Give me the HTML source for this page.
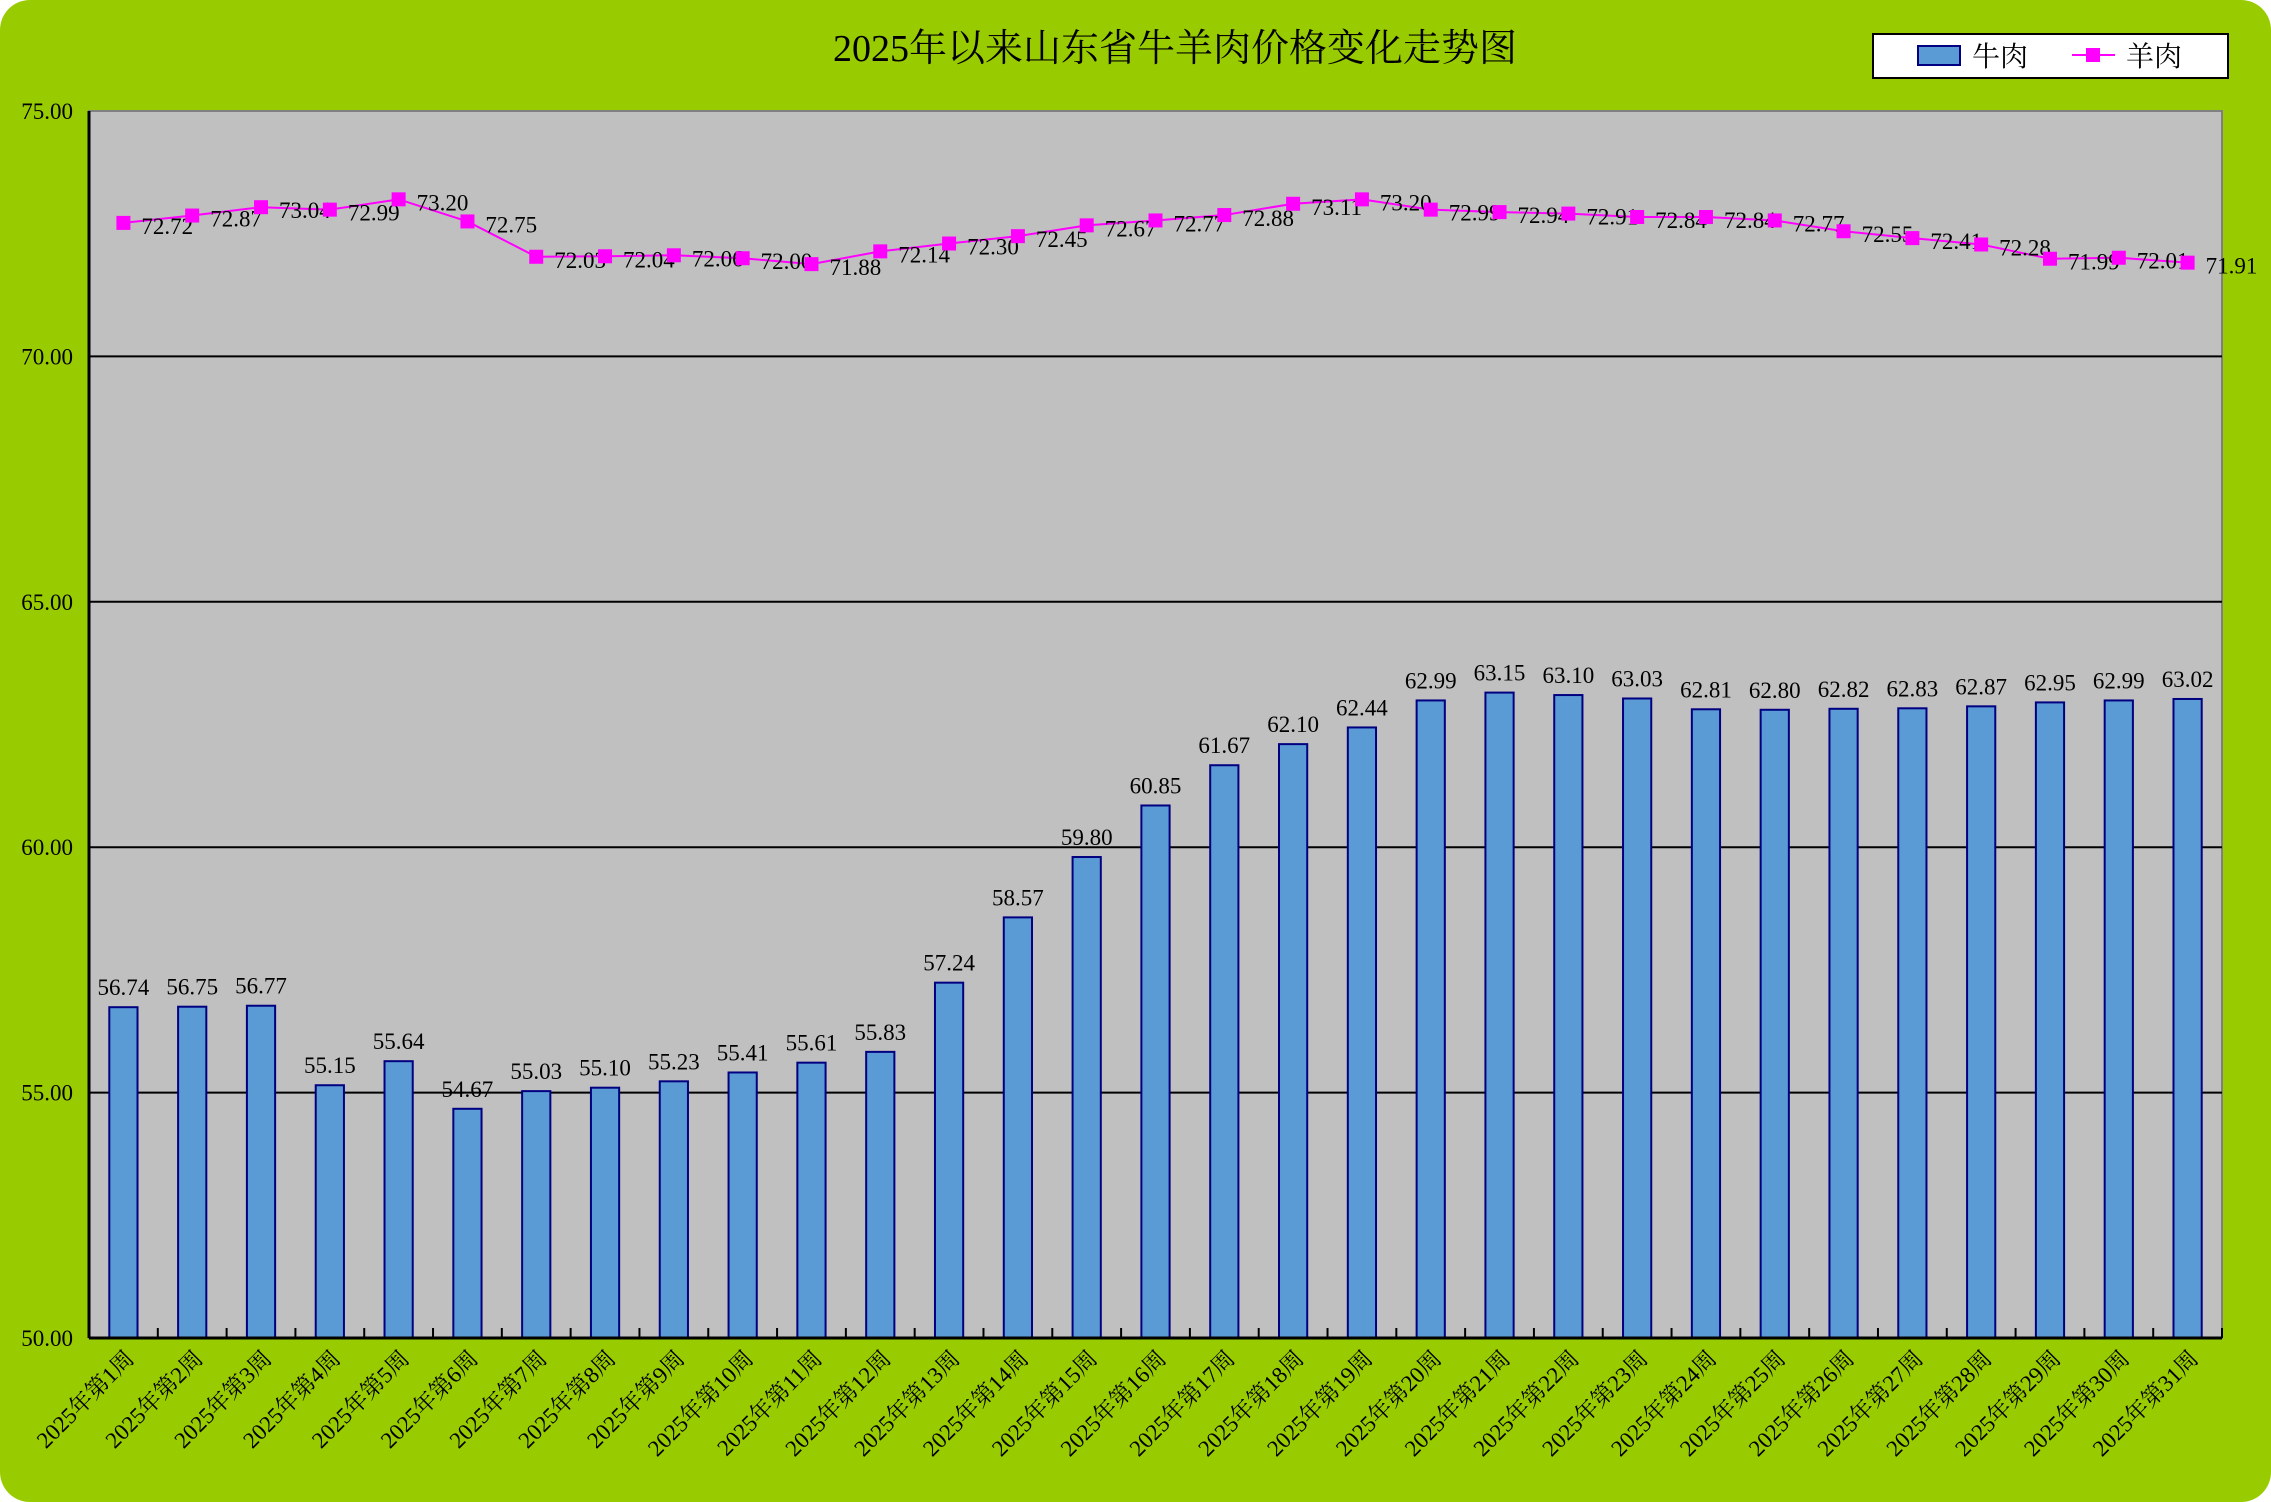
<!DOCTYPE html>
<html><head><meta charset="utf-8">
<style>
html,body{margin:0;padding:0;background:#fff;}
svg{display:block;}
text{font-family:"Liberation Serif","Noto Serif CJK SC",serif;fill:#000;}
</style></head>
<body>
<svg id="chart" width="2271" height="1502" viewBox="0 0 2271 1502">
<rect x="0" y="0" width="2271" height="1502" rx="30" fill="#99cc00"/>
<rect x="89" y="111" width="2133" height="1227" fill="#c0c0c0" stroke="#808080" stroke-width="2"/>
<text x="1175" y="61" font-size="38" text-anchor="middle">2025年以来山东省牛羊肉价格变化走势图</text>
<g id="grid"></g>
<g id="bars"></g>
<g id="line"></g>
<g id="axes"></g>
<g>
<rect x="1873" y="34" width="355" height="44" fill="#fff" stroke="#000" stroke-width="2"/>
<rect x="1918" y="46" width="42" height="19" fill="#5b9bd5" stroke="#000080" stroke-width="2"/>
<text x="1972" y="66" font-size="28">牛肉</text>
<line x1="2072" y1="55" x2="2115" y2="55" stroke="#ff00ff" stroke-width="2"/>
<rect x="2086" y="48" width="14" height="14" fill="#ff00ff"/>
<text x="2126" y="66" font-size="28">羊肉</text>
</g>
</svg>
<script>
const categories = Array.from({length:31},(_, i)=>"2025年第"+(i+1)+"周");
const beef = [56.74,56.75,56.77,55.15,55.64,54.67,55.03,55.10,55.23,55.41,55.61,55.83,57.24,58.57,59.80,60.85,61.67,62.10,62.44,62.99,63.15,63.10,63.03,62.81,62.80,62.82,62.83,62.87,62.95,62.99,63.02];
const mutton = [72.72,72.87,73.04,72.99,73.20,72.75,72.03,72.04,72.06,72.00,71.88,72.14,72.30,72.45,72.67,72.77,72.88,73.11,73.20,72.99,72.94,72.91,72.84,72.84,72.77,72.55,72.41,72.28,71.99,72.01,71.91];
const yTicks = [50,55,60,65,70,75];

const NS="http://www.w3.org/2000/svg";
const L=89,T=111,R=2222,B=1338,yMin=50,yMax=75;
const step=(R-L)/categories.length;
function xPos(i){return L+step*(i+0.5);}
function yPos(v){return B-(v-yMin)/(yMax-yMin)*(B-T);}
function mk(tag,attrs,parent){const e=document.createElementNS(NS,tag);for(const k in attrs)e.setAttribute(k,attrs[k]);parent.appendChild(e);return e;}
const grid=document.getElementById('grid'),bars=document.getElementById('bars'),line=document.getElementById('line'),axes=document.getElementById('axes');

yTicks.forEach(v=>{
  const y=yPos(v);
  if(v!==yMin&&v!==yMax){const g=mk('line',{x1:L,x2:R,y1:y,y2:y,stroke:'#000','stroke-width':2},grid);
  
  }
  const t=mk('text',{x:73,y:y+8,'font-size':23,'text-anchor':'end'},axes);t.textContent=v.toFixed(2);
  
  
});
const bw=step*0.41;
beef.forEach((v,i)=>{
  const x=xPos(i),y=yPos(v);
  const r=mk('rect',{x:x-bw/2,y:y,width:bw,height:B-y,fill:'#5b9bd5',stroke:'#000080','stroke-width':2},bars);
  
  
  const t=mk('text',{x:x,y:y-12,'font-size':23,'text-anchor':'middle'},bars);t.textContent=v.toFixed(2);
  
  
});
const pts=mutton.map((v,i)=>xPos(i)+','+yPos(v)).join(' ');
const pl=mk('polyline',{points:pts,fill:'none',stroke:'#ff00ff','stroke-width':2},line);


mutton.forEach((v,i)=>{
  const x=xPos(i),y=yPos(v);
  const m=mk('rect',{x:x-7,y:y-7,width:14,height:14,fill:'#ff00ff'},line);
  
  
  const t=mk('text',{x:x+18,y:y+11,'font-size':23},line);t.textContent=v.toFixed(2);
  
  
});
const ax=mk('line',{x1:L,x2:R,y1:B,y2:B,stroke:'#000','stroke-width':3},axes);


const ay=mk('line',{x1:L,x2:L,y1:T,y2:B,stroke:'#000','stroke-width':3},axes);


categories.forEach((c,i)=>{
  const tx=L+step*(i+1);
  const tk=mk('line',{x1:tx,x2:tx,y1:B-10,y2:B,stroke:'#000','stroke-width':2},axes);
  
  
  const x=xPos(i)+12,y=B+22;
  const t=mk('text',{x:x,y:y,'font-size':23,'text-anchor':'end',transform:'rotate(-45 '+x+' '+y+')'},axes);t.textContent=c;
  
  
});
</script>
</body></html>
